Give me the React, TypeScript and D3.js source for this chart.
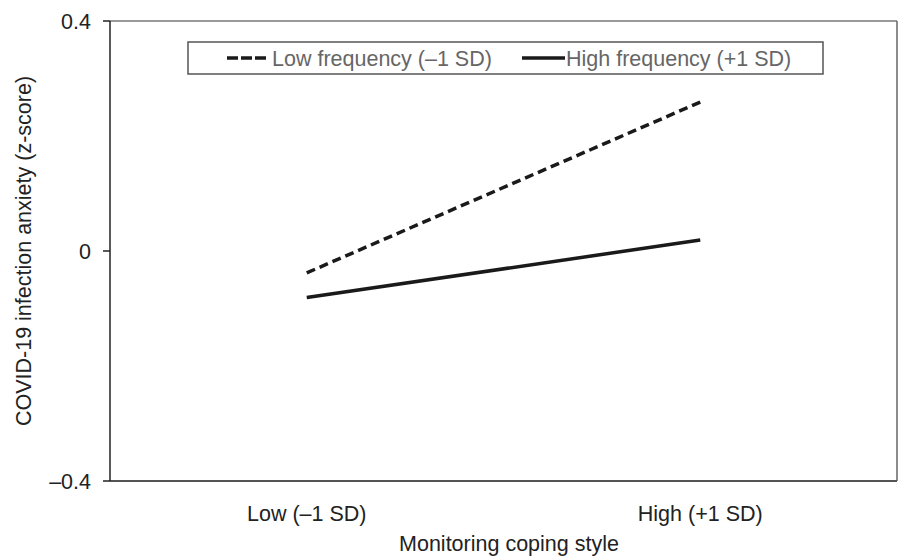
import React from "react";
import * as d3 from "d3";

const categories = ["Low (–1 SD)", "High (+1 SD)"];
const lowFrequency = [-0.038, 0.259];
const highFrequency = [-0.081, 0.019];
const yTicks = [-0.4, 0, 0.4];
const yTickLabels = ["–0.4", "0", "0.4"];
const seriesNames = ["Low frequency (–1 SD)", "High frequency (+1 SD)"];

const W = 898;
const H = 556;
const L = 110, R = 897, T = 21, B = 481;
const FONT = "'Liberation Sans', Arial, Helvetica, sans-serif";
const FS = 21.5;

export default function App() {
  const x = d3.scalePoint<string>().domain(categories).range([L, R]).padding(0.5);
  const y = d3.scaleLinear().domain([-0.4, 0.4]).range([B, T]);
  const line = d3
    .line<number>()
    .x((_, i) => x(categories[i]) as number)
    .y((d) => y(d));

  return (
    <svg width={W} height={H} style={{ position: "absolute", left: 0, top: 0, background: "#fff" }}>
      {/* frame */}
      <line x1={L} x2={R} y1={T} y2={T} stroke="#777" strokeWidth={1.5} />
      <line x1={R} x2={R} y1={T} y2={B} stroke="#666" strokeWidth={1.5} />
      <line x1={L} x2={R} y1={B} y2={B} stroke="#555" strokeWidth={1.8} />
      <line x1={L} x2={L} y1={T} y2={B} stroke="#222" strokeWidth={1.5} />

      {/* y ticks */}
      {yTicks.map((t, i) => (
        <g key={t}>
          <line x1={L - 7} x2={L} y1={y(t)} y2={y(t)} stroke="#222" strokeWidth={1.5} />
          <text
            x={L - 19}
            y={y(t)}
            dy="0.35em"
            textAnchor="end"
            fontFamily={FONT}
            fontSize={FS}
            fill="#222"
          >
            {yTickLabels[i]}
          </text>
        </g>
      ))}

      {/* x category labels */}
      {categories.map((c) => (
        <text
          key={c}
          x={x(c)}
          y={521}
          textAnchor="middle"
          fontFamily={FONT}
          fontSize={FS}
          fill="#222"
        >
          {c}
        </text>
      ))}

      {/* axis titles */}
      <text x={509} y={551} textAnchor="middle" fontFamily={FONT} fontSize={FS} fill="#222">
        Monitoring coping style
      </text>
      <text
        transform={`translate(31, ${(T + B) / 2}) rotate(-90)`}
        textAnchor="middle"
        fontFamily={FONT}
        fontSize={FS}
        fill="#222"
      >
        COVID-19 infection anxiety (z-score)
      </text>

      {/* series */}
      <path d={line(lowFrequency) || ""} fill="none" stroke="#1a1a1a" strokeWidth={3.5} strokeDasharray="9,5" />
      <path d={line(highFrequency) || ""} fill="none" stroke="#1a1a1a" strokeWidth={3.5} />

      {/* legend */}
      <rect x={188} y={42} width={635} height={32} fill="#fff" stroke="#555" strokeWidth={1.5} />
      <line x1={227} x2={266} y1={58} y2={58} stroke="#1a1a1a" strokeWidth={3.5} strokeDasharray="11,3" />
      <text x={272} y={58} dy="0.35em" fontFamily={FONT} fontSize={FS} fill="#666">
        {seriesNames[0]}
      </text>
      <line x1={522} x2={565} y1={58} y2={58} stroke="#1a1a1a" strokeWidth={3.5} />
      <text x={566} y={58} dy="0.35em" fontFamily={FONT} fontSize={FS} fill="#666">
        {seriesNames[1]}
      </text>
    </svg>
  );
}
